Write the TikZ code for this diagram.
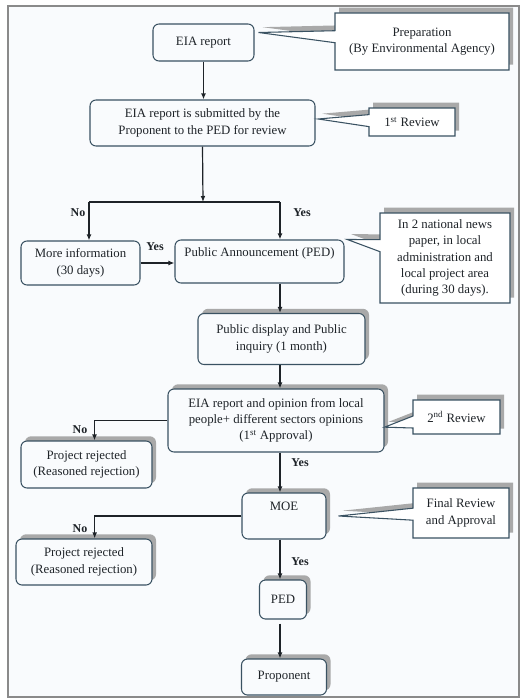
\documentclass[tikz,border=0pt]{standalone}
\usepackage{fontspec}
\setmainfont{Liberation Serif}
\usetikzlibrary{arrows.meta,shapes.callouts,shadows}

\definecolor{pagebg}{HTML}{F9FBFD}
\definecolor{framecol}{HTML}{8A8A8A}
\definecolor{edgecol}{HTML}{3A5262}
\definecolor{shadecol}{HTML}{A9A9A9}
\definecolor{inkcol}{HTML}{1E2328}

\tikzset{
  txt/.style={text=inkcol, font=\fontsize{9.6}{12.2}\selectfont},
  stepbox/.style={txt, draw=edgecol, line width=0.8pt, fill=pagebg, rounded corners=4.5pt, align=center, inner sep=0pt},
  shbox/.style={stepbox, drop shadow={shadow xshift=3pt, shadow yshift=3.5pt, fill=shadecol, opacity=1}},
  note/.style={txt, rectangle callout, draw=edgecol, line width=0.8pt, fill=white, align=center, inner sep=0pt,
    callout pointer width=9pt, drop shadow={shadow xshift=3pt, shadow yshift=4pt, fill=shadecol, opacity=1}},
  lbl/.style={text=inkcol, font=\fontsize{9}{10}\selectfont\bfseries},
  conn/.style={draw=inkcol, line width=0.9pt},
  arr/.style={conn, -{Latex[length=4.5pt,width=3.6pt]}},
}

\begin{document}
\begin{tikzpicture}[x=0.75pt, y=-0.75pt]
    % Page and frame
    \useasboundingbox (0,0) rectangle (520,699);
    \fill[white] (0,0) rectangle (520,699);
    \draw[framecol, fill=pagebg, line width=0.8pt] (8,6) rectangle (519,697);

    % Main column
    \node[stepbox, minimum width=75.75pt, minimum height=27.75pt] (eia) at (203.5,42.5) {EIA report};
    \node[stepbox, minimum width=168.75pt, minimum height=34.5pt] (submit) at (202.5,123)
        {EIA report is submitted by the\\Proponent to the PED for review};
    \node[stepbox, minimum width=89.25pt, minimum height=33pt] (moreinfo) at (80.5,263)
        {More information\\(30 days)};
    \node[stepbox, minimum width=126.75pt, minimum height=32.25pt, text depth=14pt] (announce) at (259.5,261.5)
        {Public Announcement (PED)};
    \node[shbox, minimum width=125.25pt, minimum height=38.25pt] (display) at (281.5,339)
        {Public display and Public\\inquiry (1 month)};
    \node[shbox, minimum width=162pt, minimum height=47.25pt] (opinion) at (276,420.5)
        {EIA report and opinion from local\\people+ different sectors opinions\\(1\textsuperscript{st} Approval)};
    \node[shbox, minimum width=98.25pt, minimum height=35.25pt] (rejA) at (86.5,464.5)
        {Project rejected\\(Reasoned rejection)};
    \node[shbox, minimum width=63pt, minimum height=34.5pt, text depth=14pt] (moe) at (284,516) {MOE};
    \node[shbox, minimum width=102pt, minimum height=34.5pt] (rejB) at (84,562)
        {Project rejected\\(Reasoned rejection)};
    \node[shbox, minimum width=35.25pt, minimum height=29.25pt] (ped) at (283,599.5) {PED};
    \node[shbox, minimum width=63.75pt, minimum height=27pt] (prop) at (284,677) {Proponent};

    % Callouts
    \node[note, minimum width=130.5pt, minimum height=42.75pt,
        callout absolute pointer={([xshift=3pt,yshift=7.5pt]eia.east)}] (prep) at (422,41.5)
        {Preparation\\(By Environmental Agency)};
    \node[note, minimum width=64.5pt, minimum height=21pt,
        callout absolute pointer={([xshift=2pt,yshift=3pt]submit.east)}] (revA) at (412,122)
        {1\textsuperscript{st} Review};
    \node[note, minimum width=97.5pt, minimum height=67.5pt,
        callout absolute pointer={([xshift=2pt]announce.north east)}] (news) at (445,258)
        {In 2 national news\\paper, in local\\administration and\\local project area\\(during 30 days).};
    \node[note, minimum width=65.25pt, minimum height=25.5pt,
        callout absolute pointer={([yshift=-5pt]opinion.east)}] (revB) at (456.5,417)
        {2\textsuperscript{nd} Review};
    \node[note, minimum width=72pt, minimum height=37.5pt,
        callout absolute pointer={([xshift=9pt]moe.east)}] (final) at (461,513)
        {Final Review\\and Approval};

    % Branch points
    \coordinate (split) at (203,202);
    \coordinate (splitL) at (89,202);
    \coordinate (splitR) at (280,202);
    \coordinate (col) at (280,0);

    % Connectors
    \draw[arr] (eia.south) -- (eia.south |- submit.north);
    \draw[arr] (submit.south) -- (split);
    \draw[conn] (splitL) -- (splitR);
    \draw[arr] (splitL) -- (splitL |- moreinfo.north);
    \draw[arr] (splitR) -- (splitR |- announce.north);
    \draw[arr] (moreinfo.east) -- (moreinfo.east -| announce.west);
    \draw[arr] (announce.south -| col) -- (display.north -| col);
    \draw[arr] (display.south -| col) -- (opinion.north -| col);
    \draw[arr] (opinion.west) -| ([xshift=6pt]rejA.north);
    \draw[arr] (opinion.south -| col) -- (moe.north -| col);
    \draw[arr] (moe.west) -| ([xshift=8pt]rejB.north);
    \draw[arr] (moe.south -| col) -- (ped.north -| col);
    \draw[arr] ([yshift=-3pt]ped.south -| col) -- (prop.north -| col);

    % Labels
    \node[lbl] (noA) at (78,213) {No};
    \node[lbl] (yesA) at (302,213) {Yes};
    \node[lbl] (yesB) at (155,247) {Yes};
    \node[lbl] (noB) at (80,430) {No};
    \node[lbl] (yesC) at (300,463) {Yes};
    \node[lbl] (noC) at (80,529) {No};
    \node[lbl] (yesD) at (300,562) {Yes};
\end{tikzpicture}
\end{document}
